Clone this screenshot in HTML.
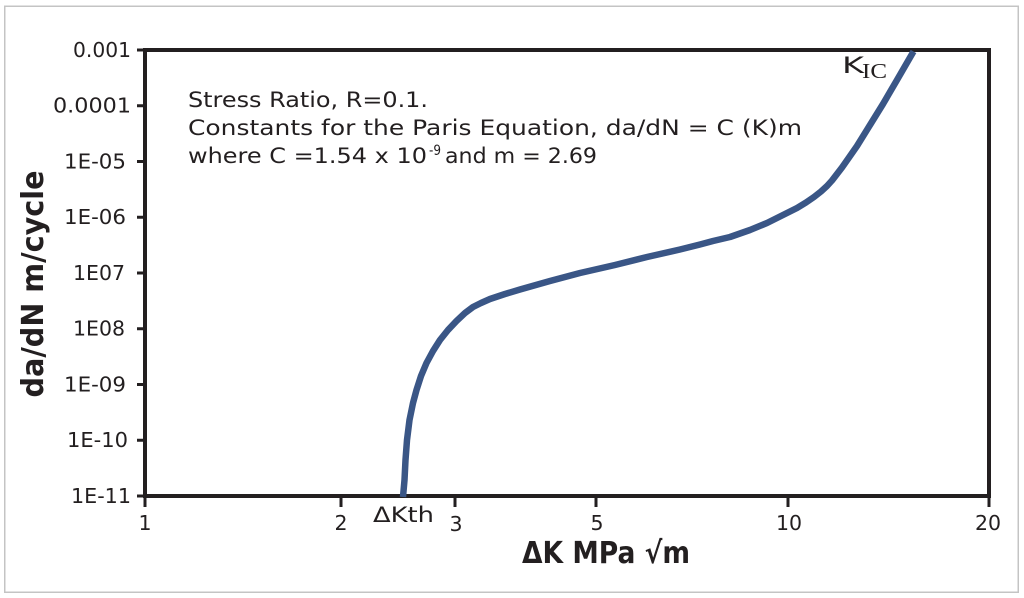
<!DOCTYPE html>
<html>
<head>
<meta charset="utf-8">
<style>
html,body{margin:0;padding:0;background:#fff;}
svg{display:block;}
text{fill:#231f20;}
</style>
</head>
<body>
<svg width="1024" height="598" viewBox="0 0 1024 598" xmlns="http://www.w3.org/2000/svg">
  <rect x="0" y="0" width="1024" height="598" fill="#ffffff"/>
  <!-- outer frame -->
  <rect x="4.75" y="6.25" width="1013.5" height="586" fill="none" stroke="#c4c4c4" stroke-width="1.5"/>

  <!-- plot frame -->
  <rect x="145" y="50" width="844" height="446" fill="none" stroke="#231f20" stroke-width="4"/>

  <!-- y ticks -->
  <g stroke="#231f20" stroke-width="3">
    <line x1="137" y1="50" x2="145" y2="50"/>
    <line x1="137" y1="105.75" x2="145" y2="105.75"/>
    <line x1="137" y1="161.5" x2="145" y2="161.5"/>
    <line x1="137" y1="217.25" x2="145" y2="217.25"/>
    <line x1="137" y1="273" x2="145" y2="273"/>
    <line x1="137" y1="328.75" x2="145" y2="328.75"/>
    <line x1="137" y1="384.5" x2="145" y2="384.5"/>
    <line x1="137" y1="440.25" x2="145" y2="440.25"/>
    <line x1="137" y1="496" x2="145" y2="496"/>
  </g>
  <!-- x ticks -->
  <g stroke="#231f20" stroke-width="3">
    <line x1="145" y1="496" x2="145" y2="507"/>
    <line x1="341" y1="496" x2="341" y2="507"/>
    <line x1="455" y1="496" x2="455" y2="507"/>
    <line x1="596" y1="496" x2="596" y2="507"/>
    <line x1="788" y1="496" x2="788" y2="507"/>
    <line x1="989" y1="496" x2="989" y2="507"/>
  </g>

  <!-- y tick labels -->
  <g font-family="'DejaVu Sans','Liberation Sans',sans-serif" font-size="20" text-anchor="end">
    <text x="131" y="57" textLength="58" lengthAdjust="spacingAndGlyphs">0.001</text>
    <text x="131" y="112.5" textLength="78" lengthAdjust="spacingAndGlyphs">0.0001</text>
    <text x="126" y="168.5" textLength="62" lengthAdjust="spacingAndGlyphs">1E-05</text>
    <text x="126" y="224" textLength="62" lengthAdjust="spacingAndGlyphs">1E-06</text>
    <text x="125" y="280" textLength="52" lengthAdjust="spacingAndGlyphs">1E07</text>
    <text x="125" y="335.5" textLength="52" lengthAdjust="spacingAndGlyphs">1E08</text>
    <text x="126" y="391.5" textLength="62" lengthAdjust="spacingAndGlyphs">1E-09</text>
    <text x="128" y="447" textLength="61" lengthAdjust="spacingAndGlyphs">1E-10</text>
    <text x="131" y="503" textLength="60" lengthAdjust="spacingAndGlyphs">1E-11</text>
  </g>

  <!-- x tick labels -->
  <g font-family="'DejaVu Sans','Liberation Sans',sans-serif" font-size="20.5" text-anchor="middle">
    <text x="145" y="530">1</text>
    <text x="341" y="530">2</text>
    <text x="456" y="531">3</text>
    <text x="597" y="530">5</text>
    <text x="789" y="530">10</text>
    <text x="988" y="530">20</text>
  </g>
  <text x="373" y="522" font-family="'DejaVu Sans','Liberation Sans',sans-serif" font-size="21.5" textLength="61" lengthAdjust="spacingAndGlyphs">ΔKth</text>

  <!-- axis titles -->
  <text x="522" y="563" font-family="'DejaVu Sans','Liberation Sans',sans-serif" font-weight="bold" font-size="30" textLength="168" lengthAdjust="spacingAndGlyphs">ΔK MPa √m</text>
  <text transform="translate(43,284) rotate(-90)" x="0" y="0" text-anchor="middle" font-family="'DejaVu Sans','Liberation Sans',sans-serif" font-weight="bold" font-size="30" textLength="227" lengthAdjust="spacingAndGlyphs">da/dN m/cycle</text>

  <!-- annotation -->
  <g font-family="'DejaVu Sans','Liberation Sans',sans-serif" font-size="21">
    <text x="188" y="107" textLength="240" lengthAdjust="spacingAndGlyphs">Stress Ratio, R=0.1.</text>
    <text x="188" y="135" textLength="614" lengthAdjust="spacingAndGlyphs">Constants for the Paris Equation, da/dN = C (K)m</text>
    <text x="188" y="163" textLength="239" lengthAdjust="spacingAndGlyphs">where C =1.54 x 10</text>
    <text x="429" y="155" font-size="14" textLength="12" lengthAdjust="spacingAndGlyphs">-9</text>
    <text x="445" y="163" textLength="152" lengthAdjust="spacingAndGlyphs">and m = 2.69</text>
  </g>

  <!-- KIC label -->
  <text x="842" y="73" font-family="'DejaVu Sans','Liberation Sans',sans-serif" font-size="22" textLength="22" lengthAdjust="spacingAndGlyphs">K</text>
  <text x="862" y="78" font-family="'Liberation Serif','DejaVu Serif',serif" font-size="21" textLength="25" lengthAdjust="spacingAndGlyphs">IC</text>

  <!-- curve -->
  <polyline fill="none" stroke="#3a5686" stroke-width="6.5" stroke-linejoin="round" stroke-linecap="butt"
    points="403,497 404.5,480 405.5,460 407,440 409.5,420 413,403 416.5,390 421,376 426.5,363 433,351 440,340 448,330 456.5,321 465,313 473,307 481,303 490,299 505,294 520,289.5 550,281 580,273 615,265 647,257 680,249.5 700,244.5 713,241 730,237 750,230 767,223 783,215 797,208 806,202.5 814,197 821,191.5 827,186 832,180.5 837,174 842,167.5 849,157.5 857,146 870,125 883,104 897,80 913.5,51.5"/>
</svg>
</body>
</html>
